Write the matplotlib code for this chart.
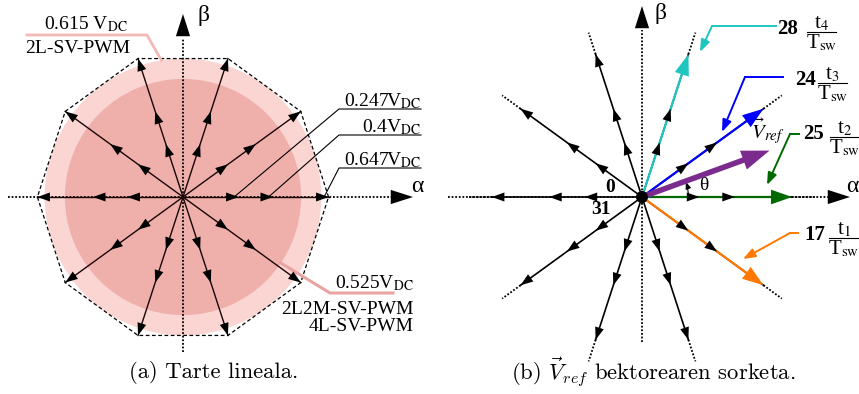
import numpy as np
import matplotlib.pyplot as plt
from matplotlib.patches import Circle, Polygon, FancyArrowPatch

plt.rcParams['font.family'] = ['Liberation Serif', 'DejaVu Serif']
plt.rcParams['mathtext.fontset'] = 'stix'

# --- data ---
angles = np.arange(0, 360, 36)          # 10 vector directions (deg)
mags = [0.247, 0.4, 0.647]              # small / medium / large vectors (V_DC)
mag_labels = ['0.247', '0.4', '0.647']
r_2l = 0.615                            # 2L-SV-PWM linear limit
r_4l = 0.525                            # 2L2M / 4L-SV-PWM linear limit

sel_angles = [-36, 0, 36, 72]
sel_ids = ['17', '25', '24', '28']
sel_t = ['1', '2', '3', '4']
sel_colors = ['#ff7800', '#006a00', '#0000ff', '#1fc6c0']
vref_mag, vref_ang = 0.585, 20

W, H = 859, 394
fig = plt.figure(figsize=(W / 100, H / 100), dpi=100)


def panel(x0, x1, cx, cy, s):
    ax = fig.add_axes([x0 / W, 0, (x1 - x0) / W, 1])
    ax.set_xlim((x0 - cx) / s, (x1 - cx) / s)
    ax.set_ylim((cy - H) / s, cy / s)
    ax.axis('off')
    P = lambda x, y: ((x - cx) / s, (cy - y) / s)
    return ax, P


def pol(r, a):
    a = np.deg2rad(a)
    return r * np.cos(a), r * np.sin(a)


def head(ax, p0, p1, color='k', hl=0.75, hw=0.27, ms=12, z=4):
    ax.add_patch(FancyArrowPatch(p0, p1, arrowstyle=f'-|>,head_length={hl},head_width={hw}',
                                 mutation_scale=ms, color=color, lw=0, shrinkA=0, shrinkB=0, zorder=z))


def vec_heads(ax, a, color='k', skip_large=False):
    for i, m in enumerate(mags):
        if skip_large and i == 2:
            continue
        head(ax, pol(m - 0.03, a), pol(m, a), color=color)


def axes_arrows(ax, P, xa, ya, cx, cy):
    dot = dict(color='k', lw=1.3, ls=(0, (1, 1)), zorder=1.5)
    ax.plot(*zip(P(xa[0], cy), P(xa[1], cy)), **dot)
    ax.plot(*zip(P(cx, ya[0]), P(cx, ya[1])), **dot)
    head(ax, P(xa[1] - 2, cy), P(xa[2], cy), hl=1.0, hw=0.32, ms=16)
    head(ax, P(cx, ya[1] + 2), P(cx, ya[2]), hl=1.0, hw=0.32, ms=16)


# ---------------- (a) ----------------
ax1, P1 = panel(0, 430, 183, 197, 225)
ax1.add_patch(Circle((0, 0), r_2l, fc='#fbd5d2', ec='none', zorder=0))
ax1.add_patch(Circle((0, 0), r_4l, fc='#efb0ac', ec='none', zorder=0.5))
ax1.add_patch(Polygon([pol(mags[2], a) for a in angles], closed=True, fill=False,
                      ec='k', lw=0.9, ls=(0, (3, 2)), zorder=1))
axes_arrows(ax1, P1, (8, 392, 413), (352, 38, 14), 183, 197)
for a in angles:
    ax1.plot(*zip((0, 0), pol(mags[2], a)), color='#1a0505', lw=1.0, zorder=2)
    vec_heads(ax1, a)

ax1.text(*P1(417, 187), 'α', fontsize=17, ha='center', va='center')
ax1.text(*P1(203, 15), 'β', fontsize=17, ha='center', va='center')

# magnitude callouts
for lbl, m, y in zip(mag_labels, mags, [109, 135, 168]):
    ax1.plot(*zip(P1(421, y), P1(339, y), pol(m - 0.02, 0)), color='k', lw=0.8, zorder=3)
    ax1.text(*P1(421, y - 3), lbl + r'V$_{\mathrm{DC}}$', fontsize=14, ha='right', va='baseline')

ax1.plot(*zip(P1(27, 35), P1(147, 35), pol(r_2l, 99)), color='#f2b9b7', lw=2, zorder=3)
ax1.text(*P1(86, 29), r'0.615 V$_{\mathrm{DC}}$', fontsize=14, ha='center', va='baseline')
ax1.text(*P1(25, 53), '2L-SV-PWM', fontsize=14, ha='left', va='baseline')

ax1.plot(*zip(pol(r_4l, -34), P1(330, 293), P1(393, 293)), color='#e8a3a2', lw=2.2, zorder=3)
ax1.text(*P1(414, 288), r'0.525V$_{\mathrm{DC}}$', fontsize=14, ha='right', va='baseline')
ax1.text(*P1(414, 314), '2L2M-SV-PWM', fontsize=14, ha='right', va='baseline')
ax1.text(*P1(414, 331), '4L-SV-PWM', fontsize=14, ha='right', va='baseline')

ax1.text(*P1(214, 372), '(a) Tarte lineala.', family='cmr10', fontsize=16.3, ha='center', va='center')

# ---------------- (b) ----------------
ax2, P2 = panel(430, 859, 642, 197, 232)
axes_arrows(ax2, P2, (448, 830, 850), (342, 30, 6), 642, 197)
for a in angles:
    ax2.plot(*zip(pol(mags[2], a), pol(0.745, a)), color='k', lw=1.3, ls=(0, (1, 1)), zorder=1.5)
    ax2.plot(*zip((0, 0), pol(mags[2], a)), color='k', lw=1.2, zorder=2)
    vec_heads(ax2, a, skip_large=(a - 360 if a > 180 else a) in sel_angles)

for a, c in zip(sel_angles, sel_colors):
    ax2.plot(*zip((0, 0), pol(mags[2] - 0.04, a)), color=c, lw=1.6, zorder=3)
    head(ax2, pol(mags[2] - 0.08, a), pol(mags[2], a), color=c, hl=0.95, hw=0.33, ms=16, z=5)

ax2.plot(*zip((0, 0), pol(vref_mag - 0.08, vref_ang)), color='#7b2a8d', lw=4, zorder=6, solid_capstyle='butt')
head(ax2, pol(vref_mag - 0.12, vref_ang), pol(vref_mag, vref_ang), color='#7b2a8d', hl=1.0, hw=0.36, ms=20, z=6)
ax2.text(*P2(768, 131), r'$\vec{V}_{ref}$', fontsize=15, ha='center', va='center')

ax2.add_patch(FancyArrowPatch(pol(0.2, 0), pol(0.2, vref_ang - 1), connectionstyle='arc3,rad=0.09',
                              arrowstyle='-|>,head_length=0.5,head_width=0.2', mutation_scale=8,
                              color='k', lw=0.8, shrinkA=0, shrinkB=0, zorder=4))
ax2.text(*P2(704, 185), 'θ', fontsize=14, ha='center', va='center')

ax2.add_patch(Circle((0, 0), 0.026, fc='k', ec='none', zorder=8))
ax2.text(*P2(610, 187), '0', fontsize=14, fontweight='bold', ha='center', va='center')
ax2.text(*P2(601, 210), '31', fontsize=14, fontweight='bold', ha='center', va='center')

ax2.text(*P2(661, 14), 'β', fontsize=17, ha='center', va='center')
ax2.text(*P2(852, 186), 'α', fontsize=17, ha='center', va='center')

# switching-state callouts
callouts = [  # (polyline start, knee, arrow tip, number x, fraction x, bar y)
    ((798, 233), (790, 233), (743, 259), 815, 829, 238),
    ((799, 134), (790, 134), (767, 185), 813, 830, 137),
    ((783, 77), (745, 77), (722, 132), 805, 818, 83),
    ((776, 26), (712, 26), (700, 52), 788, 807, 32),
]
for (p0, p1, p2, nx, fx, y), sid, t, c in zip(callouts, sel_ids, sel_t, sel_colors):
    ax2.plot(*zip(P2(*p0), P2(*p1)), color=c, lw=1.4, zorder=4)
    ax2.add_patch(FancyArrowPatch(P2(*p1), P2(*p2), arrowstyle='-|>,head_length=0.8,head_width=0.3',
                                  mutation_scale=9, color=c, lw=1.4, shrinkA=0, shrinkB=0, zorder=4))
    ax2.text(*P2(nx, y - 3), sid, fontsize=15, fontweight='bold', ha='center', va='center')
    ax2.plot(*zip(P2(fx, y), P2(fx + 29, y)), color='k', lw=0.8)
    ax2.text(*P2(fx + 14.5, y - 4), r't$_{%s}$' % t, fontsize=15, ha='center', va='baseline')
    ax2.text(*P2(fx + 14.5, y + 16), r'T$_{\mathrm{sw}}$', fontsize=15, ha='center', va='baseline')

ax2.text(*P2(653, 372), r'(b) $\vec{V}_{ref}$ bektorearen sorketa.', family='cmr10',
         math_fontfamily='cm', fontsize=16.3, ha='center', va='center')

fig.savefig('out.png', dpi=100)
